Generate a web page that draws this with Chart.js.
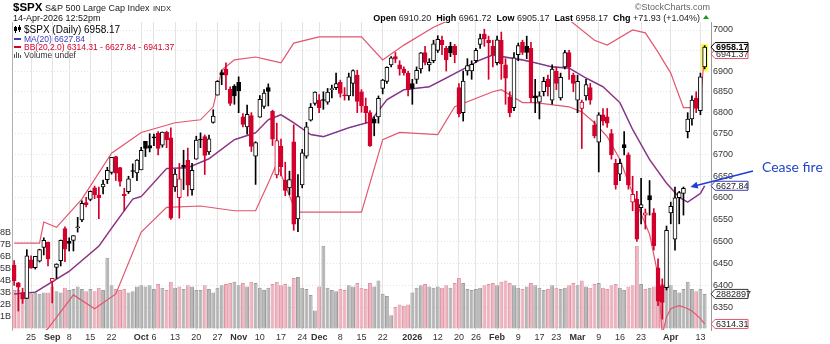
<!DOCTYPE html>
<html>
<head>
<meta charset="utf-8">
<title>$SPX Daily</title>
<script src="https://cdn.jsdelivr.net/npm/chart.js@4.4.1/dist/chart.umd.min.js"></script>
<style>
  html, body { margin: 0; padding: 0; background: #fff; }
  #box { position: relative; width: 830px; height: 344px; }
</style>
</head>
<body>
<div id="box"><canvas id="chart" width="830" height="344"></canvas></div>
<script>
// ---------- daily bars ----------
const dates = [
'2025-08-19','2025-08-20','2025-08-21','2025-08-22','2025-08-25','2025-08-26','2025-08-27','2025-08-28','2025-08-29',
'2025-09-02','2025-09-03','2025-09-04','2025-09-05','2025-09-08','2025-09-09','2025-09-10','2025-09-11','2025-09-12',
'2025-09-15','2025-09-16','2025-09-17','2025-09-18','2025-09-19','2025-09-22','2025-09-23','2025-09-24','2025-09-25',
'2025-09-26','2025-09-29','2025-09-30',
'2025-10-01','2025-10-02','2025-10-03','2025-10-06','2025-10-07','2025-10-08','2025-10-09','2025-10-10','2025-10-13',
'2025-10-14','2025-10-15','2025-10-16','2025-10-17','2025-10-20','2025-10-21','2025-10-22','2025-10-23','2025-10-24',
'2025-10-27','2025-10-28','2025-10-29','2025-10-30','2025-10-31',
'2025-11-03','2025-11-04','2025-11-05','2025-11-06','2025-11-07','2025-11-10','2025-11-11','2025-11-12','2025-11-13',
'2025-11-14','2025-11-17','2025-11-18','2025-11-19','2025-11-20','2025-11-21','2025-11-24','2025-11-25','2025-11-26',
'2025-11-28',
'2025-12-01','2025-12-02','2025-12-03','2025-12-04','2025-12-05','2025-12-08','2025-12-09','2025-12-10','2025-12-11',
'2025-12-12','2025-12-15','2025-12-16','2025-12-17','2025-12-18','2025-12-19','2025-12-22','2025-12-23','2025-12-24',
'2025-12-26','2025-12-29','2025-12-30','2025-12-31',
'2026-01-02','2026-01-05','2026-01-06','2026-01-07','2026-01-08','2026-01-09','2026-01-12','2026-01-13','2026-01-14',
'2026-01-15','2026-01-16','2026-01-20','2026-01-21','2026-01-22','2026-01-23','2026-01-26','2026-01-27','2026-01-28',
'2026-01-29','2026-01-30',
'2026-02-02','2026-02-03','2026-02-04','2026-02-05','2026-02-06','2026-02-09','2026-02-10','2026-02-11','2026-02-12',
'2026-02-13','2026-02-17','2026-02-18','2026-02-19','2026-02-20','2026-02-23','2026-02-24','2026-02-25','2026-02-26',
'2026-02-27',
'2026-03-02','2026-03-03','2026-03-04','2026-03-05','2026-03-06','2026-03-09','2026-03-10','2026-03-11','2026-03-12',
'2026-03-13','2026-03-16','2026-03-17','2026-03-18','2026-03-19','2026-03-20','2026-03-23','2026-03-24','2026-03-25',
'2026-03-26','2026-03-27','2026-03-30','2026-03-31',
'2026-04-01','2026-04-02','2026-04-06','2026-04-07','2026-04-08','2026-04-09','2026-04-10','2026-04-13','2026-04-14'
];

const opens = [
6446,6406,6384,6371,6458,6440,6455,6486,6498,
6409,6441,6456,6529,6500,6502,6531,6549,6589,6596,6623,6606,6625,6642,6659,6696,6670,6608,6614,6662,6658,
6665,6732,6722,6740,6751,6723,6753,6740,6625,6600,6676,6687,6619,6690,6737,6743,6707,6777,6842,6896,6905,6856,6863,
6873,6790,6766,6793,6697,6789,6815,6860,6803,6653,6721,6641,6623,6731,6551,6630,6697,6782,6822,
6830,6830,6825,6855,6860,6873,6840,6840,6870,6890,6850,6815,6800,6784,6790,6858,6875,6915,6935,6915,6905,6895,
6870,6880,6905,6945,6915,6925,6950,6975,6955,6960,6960,6860,6800,6900,6900,6925,6965,6990,6975,6960,
6920,6975,6915,6838,6812,6940,6970,6960,6955,6840,6825,6850,6880,6830,6900,6835,6910,6945,6890,
6830,6810,6840,6860,6770,6730,6795,6790,6750,6680,6655,6724,6700,6590,6597,6577,6560,6605,6565,6440,6400,6395,
6565,6505,6600,6610,6755,6785,6835,6805,6910.20
];
const highs = [
6456,6407,6394,6481,6467,6466,6482,6508,6498,
6416,6449,6503,6533,6508,6513,6555,6593,6601,6616,6627,6625,6641,6671,6694,6697,6671,6622,6650,6679,6689,
6718,6732,6750,6749,6755,6754,6756,6764,6666,6680,6711,6716,6680,6744,6752,6747,6747,6807,6877,6902,6920,6862,6867,
6886,6798,6818,6800,6731,6841,6855,6869,6806,6775,6737,6683,6662,6771,6654,6713,6777,6822,6850,
6843,6850,6858,6866,6895,6878,6860,6895,6903,6902,6855,6835,6805,6790,6840,6880,6910,6935,6945,6925,6910,6900,
6880,6910,6945,6960,6930,6975,6986,6985,6960,6970,6965,6870,6900,6930,6925,6955,6990,7002,6985,6975,
6985,6995,6930,6850,6945,6968,6975,6985,6970,6880,6850,6885,6890,6915,6910,6895,6950,6950,6895,
6890,6830,6880,6870,6780,6800,6810,6810,6760,6690,6690,6755,6705,6650,6615,6645,6574,6640,6575,6460,6415,6535,
6590,6625,6615,6625,6800,6840,6850,6895,6961.72
];
const lows = [
6400,6343,6360,6371,6439,6437,6453,6469,6444,
6361,6416,6444,6454,6478,6478,6521,6545,6579,6593,6598,6552,6609,6633,6655,6640,6627,6570,6610,6647,6640,
6665,6696,6707,6722,6700,6718,6717,6550,6615,6553,6619,6604,6606,6690,6717,6654,6701,6775,6842,6867,6855,6817,6820,
6800,6766,6749,6708,6631,6789,6810,6816,6722,6646,6651,6605,6607,6525,6522,6623,6692,6780,6818,
6800,6808,6820,6835,6855,6837,6830,6830,6840,6800,6801,6775,6720,6745,6775,6845,6870,6910,6920,6890,6890,6840,
6820,6870,6895,6915,6900,6920,6945,6940,6900,6935,6920,6790,6780,6890,6880,6920,6955,6960,6880,6910,
6915,6880,6820,6790,6805,6925,6940,6930,6825,6800,6785,6840,6840,6820,6855,6830,6905,6880,6850,
6800,6715,6830,6820,6740,6660,6770,6765,6690,6620,6640,6700,6620,6570,6500,6540,6528,6560,6480,6355,6325,6390,
6540,6480,6540,6560,6740,6770,6800,6795,6905.17
];
const closes = [
6411,6396,6370,6467,6439,6466,6481,6502,6460,
6416,6448,6502,6482,6495,6513,6532,6587,6584,6615,6607,6600,6632,6664,6694,6657,6638,6605,6644,6661,6688,
6711,6715,6716,6740,6715,6754,6735,6553,6655,6644,6671,6629,6664,6735,6735,6699,6738,6792,6875,6891,6890,6822,6840,
6852,6772,6796,6720,6729,6832,6847,6851,6737,6734,6672,6617,6642,6539,6603,6705,6766,6813,6849,
6812,6829,6849,6857,6870,6846,6840,6886,6901,6827,6816,6800,6721,6775,6834,6878,6909,6932,6929,6905,6896,6855,
6858,6902,6944,6921,6921,6966,6977,6964,6927,6944,6940,6797,6876,6913,6916,6950,6979,6978,6969,6939,
6976,6917,6883,6800,6932,6962,6945,6945,6835,6835,6840,6875,6862,6905,6870,6885,6945,6910,6870,
6875,6825,6867,6830,6745,6795,6780,6775,6700,6630,6680,6717,6630,6608,6505,6584,6565,6595,6490,6365,6362,6525,
6580,6600,6612,6622,6785,6830,6810,6886.24,6958.17
];
// volume, billions of shares
const volumes = [
3.2,3.2,2.8,3.3,2.9,3.0,2.9,3.0,3.0,3.5,3.1,3.0,3.4,
3.2,3.3,3.5,3.3,3.1,3.3,3.1,3.4,3.2,5.9,3.6,3.3,3.2,3.3,3.0,
3.1,3.5,3.6,3.5,3.6,3.3,3.7,3.4,3.2,3.9,3.4,3.5,3.3,3.6,3.5,3.2,3.2,3.6,3.3,3.0,3.4,3.6,3.7,3.8,3.9,
3.6,3.8,3.5,3.9,3.8,3.4,3.2,3.4,3.7,3.9,3.6,3.7,3.5,4.2,4.3,3.4,3.3,2.8,1.5,
3.5,6.9,3.4,3.2,3.1,3.3,3.2,3.6,3.5,3.8,3.4,3.3,3.8,3.5,4.0,2.9,2.7,1.1,1.8,2.0,1.9,2.0,
3.0,3.4,3.6,3.7,3.5,3.4,3.5,3.4,3.6,3.4,3.8,4.2,3.8,3.3,3.2,3.3,3.4,3.6,3.7,3.8,
3.6,3.9,4.0,3.8,3.6,3.4,3.3,3.5,3.8,3.6,3.4,3.2,3.3,3.6,3.4,3.3,3.4,3.6,3.8,
3.6,4.0,3.5,3.4,3.7,3.8,3.4,3.3,3.6,3.7,3.4,3.2,3.5,3.6,6.9,3.7,3.3,3.4,3.5,3.6,3.7,3.9,
3.6,3.2,3.0,3.3,3.9,3.3,3.1,3.3,2.882897
];
const prevClose = 6449.15;   // close before the first bar

// ---------- overlays: [bar index, value] ----------
const ma20Pts = [[0,6381],[5,6385],[13,6432],[20,6489],[23,6530],[28,6597],[30,6603],[36,6668],[41,6670],[46,6691],
[52,6736],[57,6752],[60,6783],[63,6795],[66,6776],[70,6748],[73,6743],[79,6764],[84,6778],[88,6831],[92,6855],[98,6862],
[102,6883],[107,6910],[110,6927],[113,6939],[117,6932],[120,6927],[123,6920],[127,6910],[131,6907],[135,6883],[139,6862],
[143,6824],[146,6760],[150,6689],[154,6634],[157,6601],[159,6590],[162,6610],[163,6627.84]];
const bbUpperPts = [[0,6496],[6,6496],[7,6544],[10,6532],[16,6597],[23,6704],[30,6753],[38,6776],[44,6783],[47,6814],
[49,6902],[52,6927],[57,6934],[60,6927],[63,6920],[66,6968],[72,6983],[82,6983],[87,6927],[92,6963],[99,7007],[104,7030],
[112,7030],[120,7030],[131,7025],[137,6975],[140,6963],[146,7000],[149,6993],[152,6946],[155,6895],[158,6812],[160,6812],
[162,6831],[163,6941.37]];
const bbLowerPts = [[0,6265],[4,6275],[8,6304],[14,6379],[19,6348],[24,6381],[30,6521],[36,6578],[44,6581],[52,6570],
[57,6570],[60,6634],[62,6680],[66,6580],[67,6567],[82,6567],[87,6736],[91,6753],[100,6748],[104,6814],[113,6850],[115,6855],
[120,6824],[123,6824],[131,6814],[134,6802],[137,6776],[140,6743],[143,6689],[146,6610],[150,6516],[152,6423],[153,6290],
[154,6330],[155,6348],[156,6352],[157,6355],[158,6352],[159,6348],[160,6343],[161,6335],[162,6326],[163,6314.31]];

// ---------- axis labels ----------
const tickDates = ['2025-08-25','2025-09-02','2025-09-08','2025-09-15','2025-09-22','2025-10-01','2025-10-06','2025-10-13',
'2025-10-20','2025-10-27','2025-11-03','2025-11-10','2025-11-17','2025-11-24','2025-12-01','2025-12-08','2025-12-15',
'2025-12-22','2026-01-02','2026-01-12','2026-01-20','2026-01-26','2026-02-02','2026-02-09','2026-02-17','2026-02-23',
'2026-03-02','2026-03-09','2026-03-16','2026-03-23','2026-04-01','2026-04-13'];
const tickLabels = ['25','Sep','8','15','22','Oct','6','13','20','27','Nov','10','17','24','Dec','8','15','22','2026',
'12','20','26','Feb','9','17','23','Mar','9','16','23','Apr','13'];
const periodLabels = ['Sep','Oct','Nov','Dec','2026','Feb','Mar','Apr'];
const priceTicks = [6350,6400,6450,6500,6550,6600,6650,6700,6750,6800,6850,6900,6950,7000];
const volumeTicks = [1,2,3,4,5,6,7,8];

// ---------- header / legend values ----------
const quote = { open: '6910.20', high: '6961.72', low: '6905.17', last: '6958.17', chg: '+71.93 (+1.04%)' };
const maValue = 6627.84;
const bbValues = [6314.31, 6627.84, 6941.37];
const lastVolumeText = '2882897';
const annotationText = 'Cease fire';
const annotationDate = '2026-04-07';

// ---------- styling ----------
const FONT = '"Liberation Sans", Arial, Helvetica, sans-serif';
const RED = '#d3002c';
const BB_RED = '#e2566e';
const MA_BLUE = '#3b3bbd';
const GRID = '#e3e3e3';
const PRICE_MAX = 7019.7, PRICE_MIN = 6300.9;
const VOL_MIN = -0.125, VOL_MAX = 25.54;

const labels = dates.concat(['']);
const upDay = closes.map((c, i) => c >= (i ? closes[i - 1] : prevClose));
const candleColor = upDay.map(u => u ? '#000' : RED);
const bodyFill = closes.map((c, i) => c > opens[i] ? '#ffffff' : candleColor[i]);
const pts = arr => arr.map(([i, v]) => ({ x: dates[i], y: v }));

const overlayPlugin = {
  id: 'overlay',
  beforeDatasetsDraw(chart) {
    // yellow marker behind the latest bar
    const ctx = chart.ctx, x = chart.scales.x, y = chart.scales.y;
    const i = dates.length - 1;
    const cx = x.getPixelForValue(i);
    const top = y.getPixelForValue(highs[i]) - 1.5, bot = y.getPixelForValue(lows[i]) + 2;
    ctx.save();
    ctx.fillStyle = '#ffff33';
    ctx.fillRect(cx - 3.5, top, 7, bot - top);
    ctx.restore();
  },
  afterDraw(chart) {
    const ctx = chart.ctx, ys = chart.scales.y, yv = chart.scales.yv, xs = chart.scales.x;
    const area = chart.chartArea;
    ctx.save();
    ctx.textBaseline = 'alphabetic';
    // title line
    ctx.fillStyle = '#000';
    ctx.font = 'bold 11.5px ' + FONT;
    ctx.fillText('$SPX', 13, 11);
    ctx.font = '9px ' + FONT;
    ctx.fillStyle = '#222';
    ctx.fillText('S&P 500 Large Cap Index', 45, 11);
    ctx.font = '7.5px ' + FONT;
    ctx.fillText('INDX', 153, 11);
    ctx.font = '9px ' + FONT;
    ctx.fillStyle = '#111';
    ctx.fillText('14-Apr-2026 12:52pm', 13, 20.5);
    ctx.fillStyle = '#666';
    ctx.font = '9px ' + FONT;
    ctx.textAlign = 'right';
    ctx.fillText('\u00A9StockCharts.com', 710, 10);
    ctx.textAlign = 'left';
    // quote line
    const segs = [['Open ', 1], [quote.open + '  ', 0], ['High ', 1], [quote.high + '  ', 0], ['Low ', 1], [quote.low + '  ', 0],
                  ['Last ', 1], [quote.last + '  ', 0], ['Chg ', 1], [quote.chg, 0]];
    let total = 0;
    segs.forEach(s => { ctx.font = (s[1] ? 'bold ' : '') + '9px ' + FONT; total += ctx.measureText(s[0]).width; });
    let qx = 700 - total;
    segs.forEach(s => {
      ctx.font = (s[1] ? 'bold ' : '') + '9px ' + FONT;
      ctx.fillStyle = s[1] ? '#000' : '#222';
      ctx.fillText(s[0], qx, 20.5);
      qx += ctx.measureText(s[0]).width;
    });
    ctx.fillStyle = '#1a9a1a';
    ctx.beginPath(); ctx.moveTo(703, 19); ctx.lineTo(709, 19); ctx.lineTo(706, 15); ctx.closePath(); ctx.fill();

    // legend inside the plot
    ctx.fillStyle = '#000';
    ctx.fillRect(15, 26, 1, 7); ctx.fillRect(14, 27, 3, 4);
    ctx.fillRect(19, 25, 1, 7); ctx.fillRect(18, 27, 3, 3);
    ctx.font = '10px ' + FONT;
    ctx.fillText('$SPX (Daily) ' + quote.last, 24, 33);
    ctx.fillStyle = MA_BLUE;
    ctx.fillRect(14, 38, 7, 2);
    ctx.font = '8.5px ' + FONT;
    ctx.fillText('MA(20) ' + maValue.toFixed(2), 24, 42);
    ctx.fillStyle = RED;
    ctx.fillRect(14, 46, 7, 2);
    ctx.fillText('BB(20,2.0) ' + bbValues.map(v => v.toFixed(2)).join(' - '), 24, 50);
    ctx.fillStyle = '#555';
    ctx.fillRect(14, 54, 1, 4); ctx.fillRect(16, 52, 1, 6); ctx.fillRect(18, 53, 1, 5); ctx.fillRect(20, 55, 1, 3);
    ctx.fillStyle = '#333';
    ctx.fillText('Volume undef', 24, 58);

    // value tags on the right axis
    const tag = (y, text, stroke, color, bold) => {
      const x0 = area.right, h = 9, w = 37;
      ctx.beginPath();
      ctx.moveTo(x0, y); ctx.lineTo(x0 + 4, y - h / 2); ctx.lineTo(x0 + w, y - h / 2);
      ctx.lineTo(x0 + w, y + h / 2); ctx.lineTo(x0 + 4, y + h / 2); ctx.closePath();
      ctx.fillStyle = '#fff'; ctx.fill();
      ctx.lineWidth = 1; ctx.strokeStyle = stroke; ctx.stroke();
      ctx.fillStyle = color;
      ctx.font = (bold ? 'bold ' : '') + '9px ' + FONT;
      ctx.textBaseline = 'middle';
      ctx.fillText(text, x0 + 5, y + 0.5);
    };
    tag(ys.getPixelForValue(bbValues[2]), bbValues[2].toFixed(2), BB_RED, '#333', false);
    tag(ys.getPixelForValue(closes[closes.length - 1]), quote.last, '#000', '#000', true);
    tag(ys.getPixelForValue(maValue), maValue.toFixed(2), MA_BLUE, '#222', false);
    tag(yv.getPixelForValue(volumes[volumes.length - 1]), lastVolumeText, '#333', '#222', false);
    tag(ys.getPixelForValue(bbValues[0]), bbValues[0].toFixed(2), BB_RED, '#222', false);

    // annotation
    const ai = dates.indexOf(annotationDate);
    const tipX = xs.getPixelForValue(ai) + 7, tipY = ys.getPixelForValue(6625);
    const tailX = 753, tailY = 171;
    ctx.strokeStyle = '#1f3fd0'; ctx.fillStyle = '#1f3fd0'; ctx.lineWidth = 1.6;
    ctx.beginPath(); ctx.moveTo(tailX, tailY); ctx.lineTo(tipX + 5, tipY - 1.2); ctx.stroke();
    const ang = Math.atan2(tipY - tailY, tipX - tailX);
    ctx.beginPath();
    ctx.moveTo(tipX, tipY);
    ctx.lineTo(tipX - 8 * Math.cos(ang - 0.45), tipY - 8 * Math.sin(ang - 0.45));
    ctx.lineTo(tipX - 8 * Math.cos(ang + 0.45), tipY - 8 * Math.sin(ang + 0.45));
    ctx.closePath(); ctx.fill();
    ctx.font = '14px Lato, "Open Sans", sans-serif';
    ctx.textBaseline = 'alphabetic';
    ctx.fillStyle = '#2246c8';
    ctx.fillText(annotationText, 762, 172);
    ctx.restore();
  }
};

new Chart(document.getElementById('chart'), {
  type: 'bar',
  data: {
    labels,
    datasets: [
      { type: 'bar', data: lows.map((l, i) => [l, highs[i]]), yAxisID: 'y', backgroundColor: candleColor,
        barThickness: 1, grouped: false, order: 2 },
      { type: 'bar', data: opens.map((o, i) => [o, closes[i]]), yAxisID: 'y', backgroundColor: bodyFill,
        borderColor: candleColor, borderWidth: 1, borderSkipped: false, barThickness: 4, minBarLength: 1,
        grouped: false, order: 1 },
      { type: 'bar', data: volumes, yAxisID: 'yv',
        backgroundColor: upDay.map(u => u ? '#b5b5b5' : '#eeb3be'),
        borderColor: upDay.map(u => u ? '#9d9d9d' : '#df93a3'), borderWidth: 1, borderSkipped: false,
        categoryPercentage: 1, barPercentage: 0.92, grouped: false, order: 10 },
      { type: 'line', data: pts(bbUpperPts), yAxisID: 'y', borderColor: BB_RED, borderWidth: 1.2,
        pointRadius: 0, spanGaps: true, order: 5 },
      { type: 'line', data: pts(bbLowerPts), yAxisID: 'y', borderColor: BB_RED, borderWidth: 1.2,
        pointRadius: 0, spanGaps: true, order: 5 },
      { type: 'line', data: pts(ma20Pts), yAxisID: 'y', borderColor: BB_RED, borderWidth: 1.6,
        pointRadius: 0, spanGaps: true, order: 4 },
      { type: 'line', data: pts(ma20Pts), yAxisID: 'y', borderColor: MA_BLUE, borderWidth: 0.9,
        pointRadius: 0, spanGaps: true, order: 3 }
    ]
  },
  options: {
    responsive: false,
    animation: false,
    devicePixelRatio: 1,
    layout: { padding: { top: 22, left: 0, right: 0, bottom: 0 } },
    plugins: { legend: { display: false }, tooltip: { enabled: false } },
    scales: {
      x: {
        type: 'category', position: 'bottom', offset: true,
        grid: { color: GRID, offset: false, drawTicks: false },
        border: { display: false },
        afterFit: s => { s.height = 14; },
        ticks: {
          autoSkip: false, maxRotation: 0, padding: 2, color: '#333',
          font: c => ({ family: FONT, size: 9, weight: (c.tick && periodLabels.includes(c.tick.label)) ? 'bold' : 'normal' }),
          callback: function (v) {
            const k = tickDates.indexOf(this.getLabelForValue(v));
            return k >= 0 ? tickLabels[k] : null;
          }
        }
      },
      y: {
        type: 'logarithmic', position: 'right', min: PRICE_MIN, max: PRICE_MAX,
        afterBuildTicks: s => { s.ticks = priceTicks.map(v => ({ value: v })); },
        afterFit: s => { s.width = 119; },
        grid: { color: GRID, drawTicks: false },
        border: { display: true, color: '#9a9a9a', dash: [1, 2] },
        ticks: { padding: 2, color: '#333', font: { family: FONT, size: 9 }, callback: v => String(v) }
      },
      yv: {
        type: 'linear', position: 'left', min: VOL_MIN, max: VOL_MAX,
        afterBuildTicks: s => { s.ticks = volumeTicks.map(v => ({ value: v })); },
        afterFit: s => { s.width = 12; },
        grid: { display: false, drawTicks: false },
        border: { display: true, color: '#b0b0b0' },
        ticks: { padding: 1, color: '#333', font: { family: FONT, size: 9 }, callback: v => v + 'B' }
      }
    }
  },
  plugins: [overlayPlugin]
});
</script>
</body>
</html>
